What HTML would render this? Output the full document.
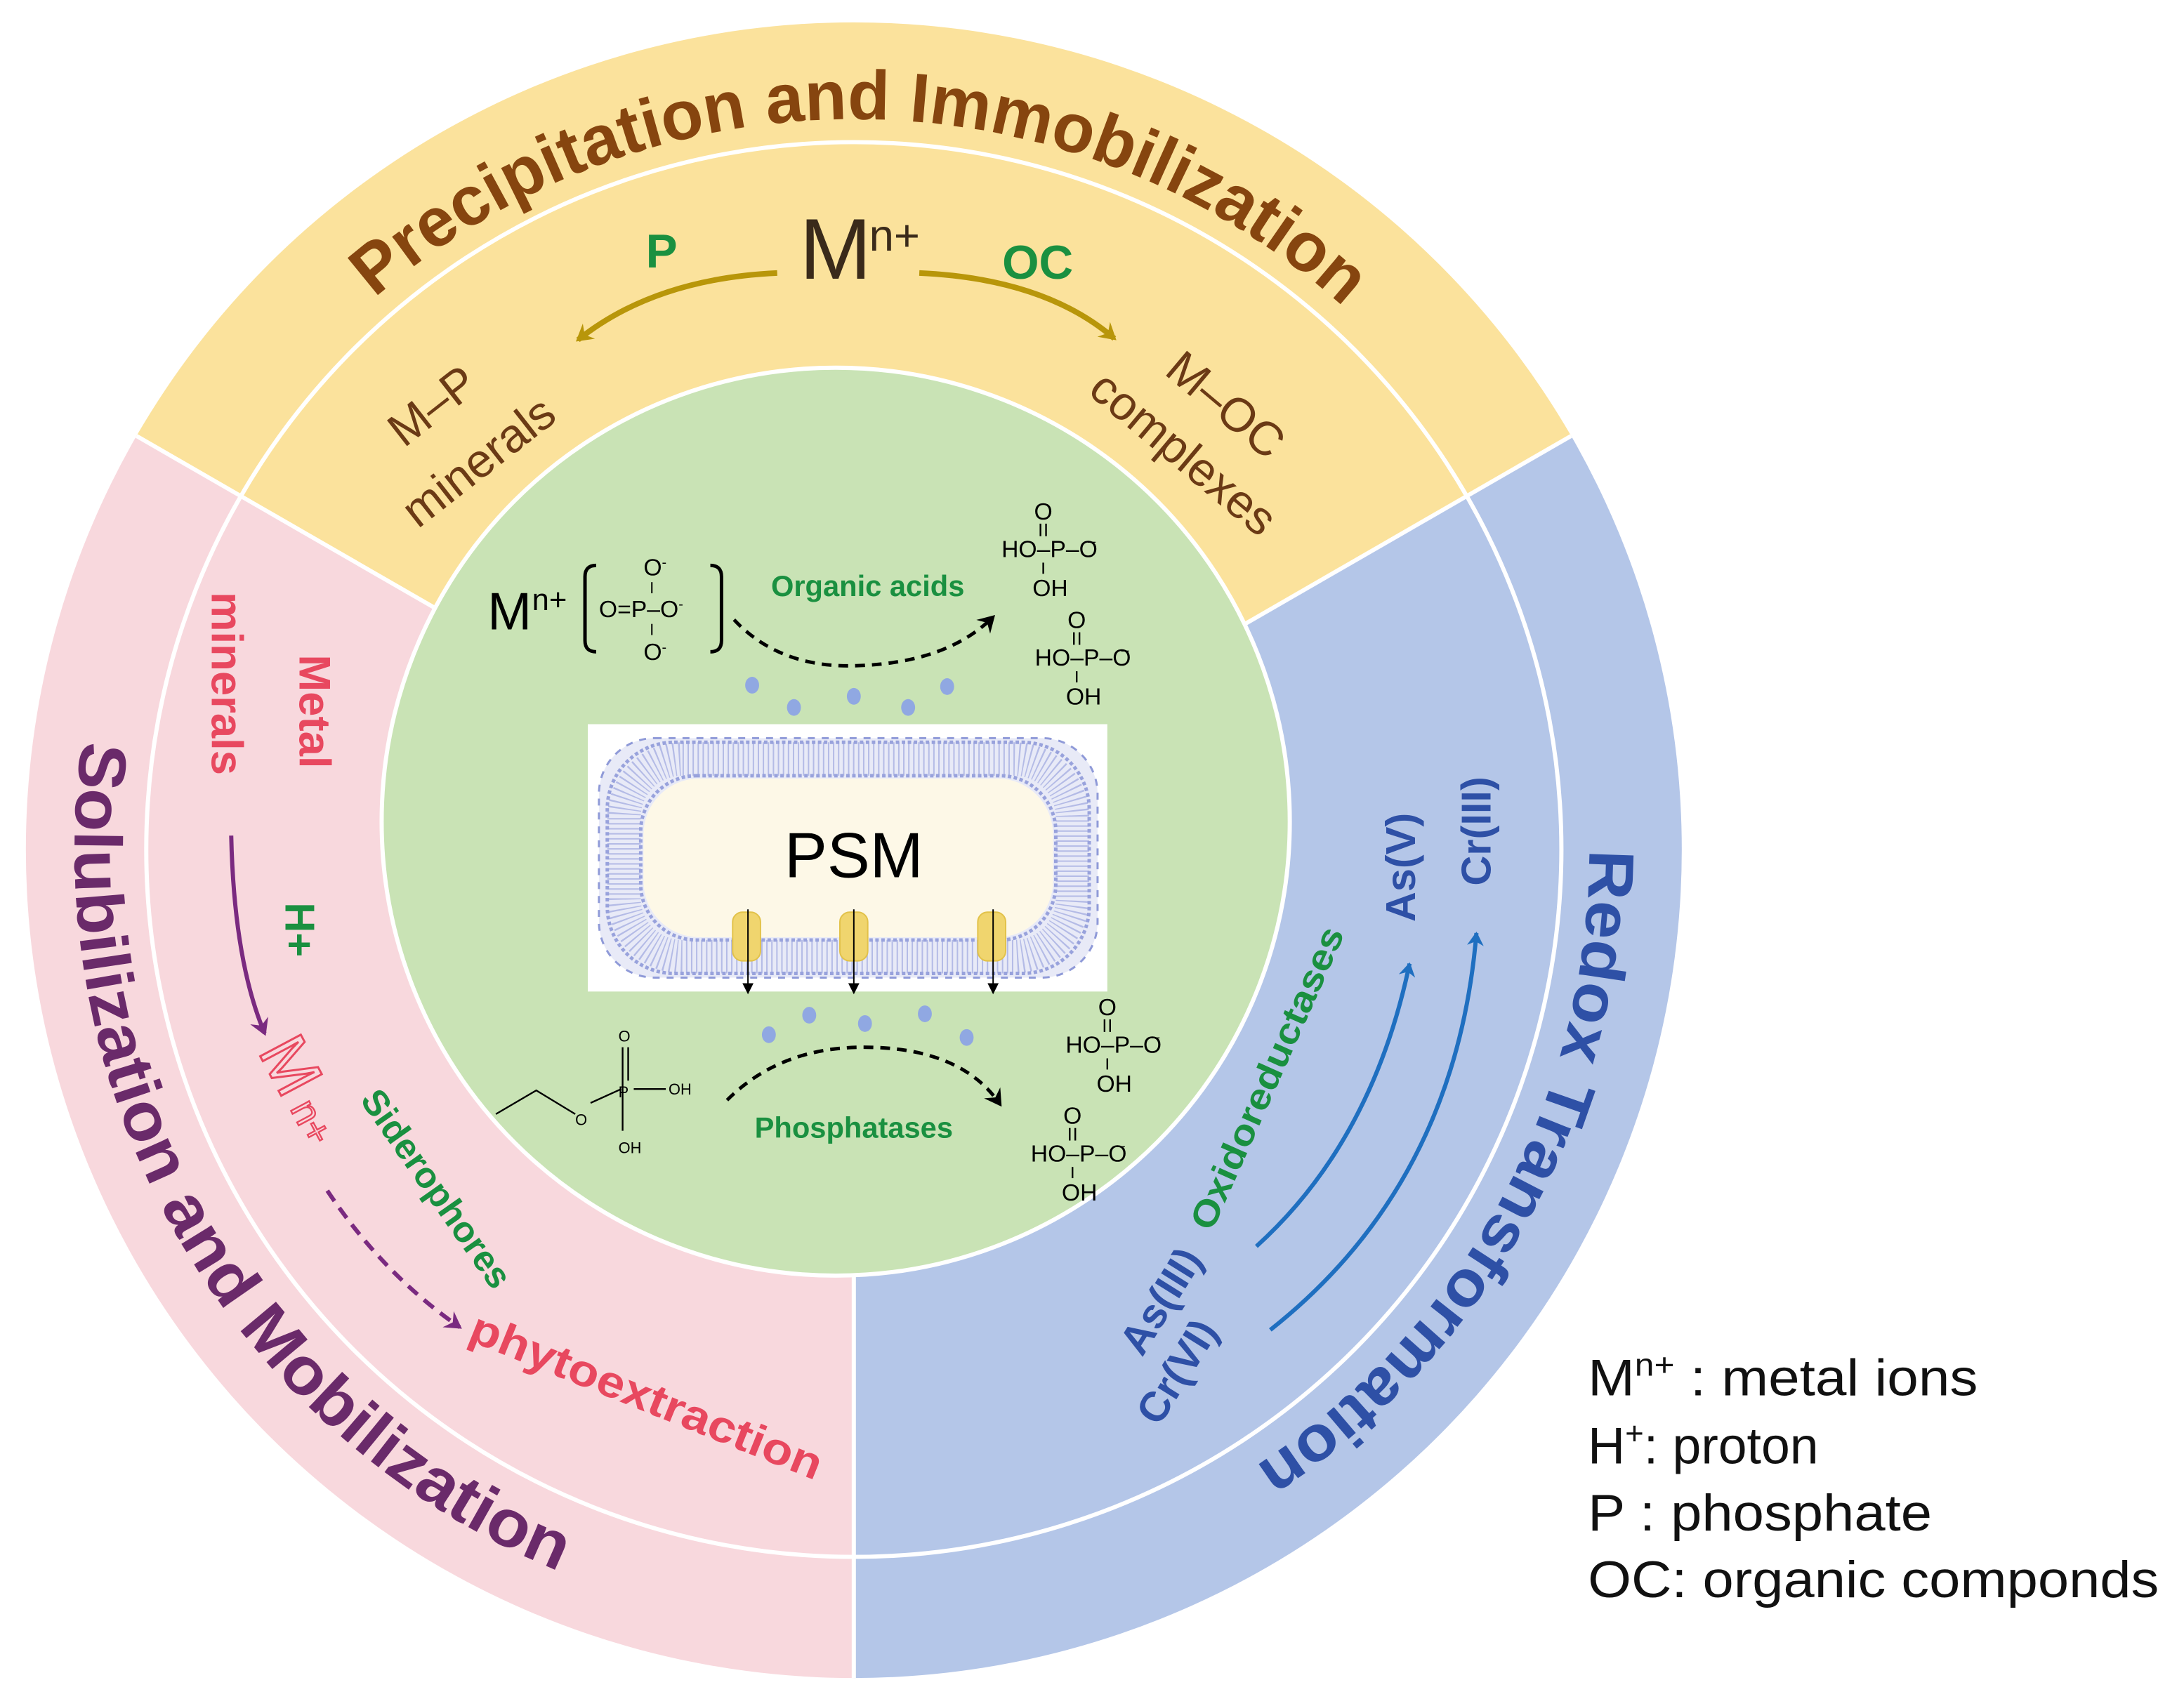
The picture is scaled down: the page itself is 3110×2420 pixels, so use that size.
<!DOCTYPE html>
<html><head><meta charset="utf-8"><style>
html,body{margin:0;padding:0;background:#fff;}
svg{display:block;}
text{font-family:"Liberation Sans",sans-serif;}
</style></head><body>
<svg width="3110" height="2420" viewBox="0 0 1568 1220" xmlns="http://www.w3.org/2000/svg">
<defs>
<path id="arcTop" d="M269,214 A525,525 0 0 1 964,220"/>
<path id="arcLeft" d="M59,532 A560,560 0 0 0 403,1129"/>
<path id="arcRight" d="M1141,610 A528,528 0 0 1 901,1053"/>
<g id="phos">
<text x="0" y="0" font-size="17" text-anchor="middle">O</text>
<line x1="-2" y1="3" x2="-2" y2="12" stroke="#000" stroke-width="1.2"/><line x1="2" y1="3" x2="2" y2="12" stroke="#000" stroke-width="1.2"/>
<text x="-30" y="27" font-size="17">HO–P–O</text><text x="32" y="19" font-size="10">–</text>
<line x1="0" y1="31" x2="0" y2="39" stroke="#000" stroke-width="1.2"/>
<text x="5" y="55" font-size="17" text-anchor="middle">OH</text>
</g>
<marker id="ah" markerWidth="8" markerHeight="8" refX="6" refY="4" orient="auto" markerUnits="userSpaceOnUse"><path d="M0,0 L8,4 L0,8 z" fill="#000"/></marker>
<marker id="ahg" markerWidth="14" markerHeight="14" refX="10" refY="7" orient="auto" markerUnits="userSpaceOnUse"><path d="M0,0 L12,7 L0,14 L4,7 z" fill="#b8960a"/></marker>
<marker id="ahp" markerWidth="14" markerHeight="14" refX="10" refY="7" orient="auto" markerUnits="userSpaceOnUse"><path d="M0,0 L12,7 L0,14 L4,7 z" fill="#7a2a80"/></marker>
<marker id="ahb" markerWidth="12" markerHeight="12" refX="9" refY="6" orient="auto" markerUnits="userSpaceOnUse"><path d="M0,0 L10,6 L0,12 L3,6 z" fill="#1f6fc0"/></marker>
<marker id="ahk" markerWidth="14" markerHeight="14" refX="10" refY="7" orient="auto" markerUnits="userSpaceOnUse"><path d="M0,0 L12,7 L0,14 L4,7 z" fill="#000"/></marker>
</defs>
<rect width="1568" height="1220" fill="#fff"/>
<path d="M613,610 L98,313 A595,595 0 0 1 1128,313 Z" fill="#fbe29c"/>
<path d="M613,610 L98,313 A595,595 0 0 0 613,1205 Z" fill="#f8d8dd"/>
<path d="M613,610 L613,1205 A595,595 0 0 0 1128,313 Z" fill="#b4c6e8"/>
<circle cx="613" cy="610" r="508" fill="none" stroke="#fff" stroke-width="3"/>
<line x1="613" y1="610" x2="98" y2="313" stroke="#fff" stroke-width="3"/>
<line x1="613" y1="610" x2="1128" y2="313" stroke="#fff" stroke-width="3"/>
<line x1="613" y1="610" x2="613" y2="1205" stroke="#fff" stroke-width="3"/>
<circle cx="600" cy="590" r="326" fill="#c9e3b5" stroke="#fff" stroke-width="3"/>

<text font-size="50" font-weight="bold" fill="#86450f"><textPath href="#arcTop" textLength="760" lengthAdjust="spacingAndGlyphs">Precipitation and Immobilization</textPath></text>
<text font-size="48" font-weight="bold" fill="#6a2a6a"><textPath href="#arcLeft" textLength="740" lengthAdjust="spacingAndGlyphs">Solubilization and Mobilization</textPath></text>
<text font-size="46" font-weight="bold" fill="#2e50a6"><textPath href="#arcRight" textLength="525" lengthAdjust="spacingAndGlyphs">Redox Transformation</textPath></text>

<text x="574" y="200" font-size="62" fill="#3a2a1a">M</text><text x="624" y="180" font-size="32" fill="#3a2a1a">n+</text>
<text x="475" y="192" font-size="34" font-weight="bold" fill="#1a9040" text-anchor="middle">P</text>
<text x="745" y="200" font-size="34" font-weight="bold" fill="#1a9040" text-anchor="middle">OC</text>
<path d="M558,196 Q470,200 415,244" fill="none" stroke="#b8960a" stroke-width="4" marker-end="url(#ahg)"/>
<path d="M660,196 Q750,200 800,243" fill="none" stroke="#b8960a" stroke-width="4" marker-end="url(#ahg)"/>
<g fill="#6b3a15" font-size="34">
<text transform="translate(290,322) rotate(-38)">M–P</text>
<text transform="translate(300,380) rotate(-38)">minerals</text>
<text transform="translate(835,268) rotate(40)">M–OC</text>
<text transform="translate(780,282) rotate(40)">complexes</text>
</g>

<g font-weight="bold" fill="#e8485f" font-size="32">
<text transform="translate(215,470) rotate(90)">Metal</text>
<text transform="translate(152,425) rotate(90)">minerals</text>
</g>
<path d="M166,600 Q168,690 190,742" fill="none" stroke="#7a2a80" stroke-width="3" marker-end="url(#ahp)"/>
<text transform="translate(205,648) rotate(90)" font-size="30" font-weight="bold" fill="#1a9040">H+</text>
<text transform="translate(185,755) rotate(62)" font-size="48" fill="none" stroke="#e8485f" stroke-width="1.5">M</text>
<text transform="translate(208,796) rotate(62)" font-size="28" fill="none" stroke="#e8485f" stroke-width="1.2">n+</text>
<text transform="translate(258,790) rotate(55)" font-size="26" font-weight="bold" fill="#1a9040">Siderophores</text>
<path d="M235,855 Q275,915 330,953" fill="none" stroke="#7a2a80" stroke-width="3" stroke-dasharray="9,6" marker-end="url(#ahp)"/>
<text transform="translate(335,962) rotate(22)" font-size="32" font-weight="bold" fill="#e8485f" textLength="270" lengthAdjust="spacingAndGlyphs">phytoextraction</text>

<text transform="translate(870,885) rotate(-66)" font-size="26" font-weight="bold" fill="#1a9040" textLength="235" lengthAdjust="spacingAndGlyphs">Oxidoreductases</text>
<path d="M902,895 Q985,820 1012,692" fill="none" stroke="#1f6fc0" stroke-width="3" marker-end="url(#ahb)"/>
<path d="M912,955 Q1045,850 1060,670" fill="none" stroke="#1f6fc0" stroke-width="3" marker-end="url(#ahb)"/>
<g font-size="30" font-weight="bold" fill="#2e50a6">
<text transform="translate(820,975) rotate(-58)">As(III)</text>
<text transform="translate(832,1025) rotate(-58)">Cr(VI)</text>
<text transform="translate(1016,662) rotate(-90)">As(V)</text>
<text transform="translate(1070,636) rotate(-90)">Cr(III)</text>
</g>

<g font-size="37" fill="#111">
<text x="1140" y="1002" textLength="280" lengthAdjust="spacingAndGlyphs">M<tspan font-size="23" dy="-14">n+</tspan><tspan dy="14"> : metal ions</tspan></text>
<text x="1140" y="1051">H<tspan font-size="23" dy="-14">+</tspan><tspan dy="14">:  proton</tspan></text>
<text x="1140" y="1099" textLength="247" lengthAdjust="spacingAndGlyphs">P : phosphate</text>
<text x="1140" y="1147" textLength="410" lengthAdjust="spacingAndGlyphs">OC: organic componds</text>
</g>

<text x="350" y="452" font-size="38" fill="#000">M</text><text x="382" y="438" font-size="22" fill="#000">n+</text>
<path d="M428,406 Q420,406 420,414 L420,460 Q420,468 428,468" fill="none" stroke="#000" stroke-width="2.5"/>
<path d="M510,406 Q518,406 518,414 L518,460 Q518,468 510,468" fill="none" stroke="#000" stroke-width="2.5"/>
<g font-size="17" fill="#000">
<text x="462" y="413">O<tspan font-size="10" dy="-6">-</tspan></text>
<line x1="468" y1="418" x2="468" y2="426" stroke="#000"/>
<text x="430" y="443">O=P–O<tspan font-size="10" dy="-6">-</tspan></text>
<line x1="468" y1="448" x2="468" y2="456" stroke="#000"/>
<text x="462" y="474">O<tspan font-size="10" dy="-6">-</tspan></text>
</g>
<text x="623" y="428" font-size="21" font-weight="bold" fill="#1a9040" text-anchor="middle">Organic acids</text>
<path d="M527,445 Q560,480 615,478 Q680,476 713,443" fill="none" stroke="#000" stroke-width="2.5" stroke-dasharray="7,5" marker-end="url(#ahk)"/>
<use href="#phos" x="749" y="373"/>
<use href="#phos" x="773" y="451"/>
<g fill="#90a8e2">
<ellipse cx="540" cy="492" rx="5" ry="6"/><ellipse cx="570" cy="508" rx="5" ry="6"/><ellipse cx="613" cy="500" rx="5" ry="6"/><ellipse cx="652" cy="508" rx="5" ry="6"/><ellipse cx="680" cy="493" rx="5" ry="6"/>
<ellipse cx="552" cy="743" rx="5" ry="6"/><ellipse cx="581" cy="729" rx="5" ry="6"/><ellipse cx="621" cy="735" rx="5" ry="6"/><ellipse cx="664" cy="728" rx="5" ry="6"/><ellipse cx="694" cy="745" rx="5" ry="6"/>
</g>
<rect x="422" y="520" width="373" height="192" fill="#fff"/>
<rect x="430" y="530" width="358" height="172" rx="40" fill="#e8eaf7" stroke="#8f9ad8" stroke-width="1.5" stroke-dasharray="5,5"/>
<rect x="448" y="545" width="322" height="142" rx="42" fill="none" stroke="#b4bbe6" stroke-width="24" stroke-dasharray="1,2.6"/>
<rect x="436" y="533" width="346" height="166" rx="48" fill="none" stroke="#98a2dc" stroke-width="2.5" stroke-dasharray="2.5,1.8"/>
<rect x="460" y="557" width="298" height="118" rx="40" fill="none" stroke="#98a2dc" stroke-width="2.5" stroke-dasharray="2.5,1.8"/>
<rect x="462" y="559" width="294" height="114" rx="40" fill="#fdf8e7"/>
<text x="613" y="630" font-size="46" text-anchor="middle" fill="#000">PSM</text>
<g fill="#f0d56e" stroke="#e2c24a" stroke-width="1">
<rect x="526" y="655" width="20" height="35" rx="7"/><rect x="603" y="655" width="20" height="35" rx="7"/><rect x="702" y="655" width="20" height="35" rx="7"/>
</g>
<g stroke="#000" stroke-width="1" marker-end="url(#ah)">
<line x1="537" y1="653" x2="537" y2="712"/><line x1="613" y1="653" x2="613" y2="712"/><line x1="713" y1="653" x2="713" y2="712"/>
</g>
<text x="613" y="817" font-size="21" font-weight="bold" fill="#1a9040" text-anchor="middle">Phosphatases</text>
<path d="M522,790 Q560,752 620,752 Q690,752 718,793" fill="none" stroke="#000" stroke-width="2.5" stroke-dasharray="7,5" marker-end="url(#ahk)"/>
<use href="#phos" x="795" y="729"/>
<use href="#phos" x="770" y="807"/>
<g stroke="#000" stroke-width="1.2" fill="none">
<path d="M356,800 L385,783 L413,800"/>
<line x1="424" y1="792" x2="446" y2="782"/>
<line x1="447" y1="752" x2="447" y2="812"/><line x1="451" y1="752" x2="451" y2="776"/>
<line x1="455" y1="782" x2="478" y2="782"/>
</g>
<g font-size="11" fill="#000">
<text x="413" y="808">O</text><text x="444" y="748">O</text><text x="444" y="788">P</text><text x="480" y="786">OH</text><text x="444" y="828">OH</text>
</g>
</svg>
</body></html>
